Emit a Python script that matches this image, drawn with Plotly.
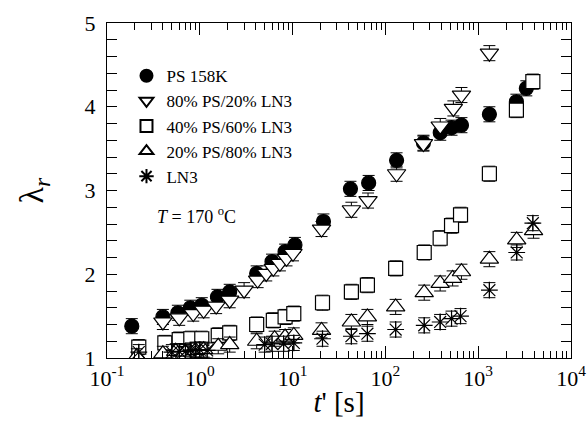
import plotly.graph_objects as go

# PS 158K (filled circles)
ps_t = [0.185, 0.40, 0.58, 0.79, 1.05, 1.55, 2.1, 4.1, 6.0, 8.3, 10.6, 21.5, 42, 66, 132, 257, 390, 516, 660, 1320, 2580, 3300]
ps_l = [1.38, 1.49, 1.54, 1.60, 1.63, 1.73, 1.79, 2.01, 2.15, 2.27, 2.35, 2.63, 3.02, 3.09, 3.36, 3.57, 3.69, 3.75, 3.78, 3.91, 4.06, 4.22]

# 80% PS / 20% LN3 (down triangles)
b80_t = [0.40, 0.60, 0.85, 1.1, 1.5, 2.1, 3.0, 4.2, 5.2, 6.2, 7.3, 8.6, 10.1, 20.5, 43, 65, 132, 257, 390, 540, 660, 1320]
b80_l = [1.43, 1.48, 1.53, 1.57, 1.62, 1.69, 1.81, 1.93, 2.01, 2.07, 2.13, 2.19, 2.25, 2.54, 2.77, 2.88, 3.20, 3.56, 3.77, 3.98, 4.14, 4.64]

# 40% PS / 60% LN3 (squares)
b40_t = [0.22, 0.42, 0.60, 0.80, 1.05, 1.58, 2.1, 4.1, 6.2, 8.3, 10.3, 21, 43, 64, 129, 262, 389, 516, 645, 1320, 2580, 3880]
b40_l = [1.13, 1.18, 1.22, 1.23, 1.23, 1.27, 1.30, 1.40, 1.45, 1.49, 1.53, 1.66, 1.79, 1.87, 2.07, 2.26, 2.43, 2.58, 2.71, 3.20, 3.96, 4.30]

# 20% PS / 80% LN3 (up triangles)
b20_t = [0.21, 0.40, 0.55, 0.70, 0.90, 1.1, 1.58, 2.1, 4.1, 6.4, 8.3, 10.3, 20.5, 43, 64, 129, 262, 389, 530, 660, 1320, 2600, 3950]
b20_l = [1.02, 1.05, 1.08, 1.07, 1.09, 1.10, 1.14, 1.16, 1.20, 1.23, 1.25, 1.27, 1.33, 1.43, 1.49, 1.61, 1.78, 1.89, 1.95, 2.03, 2.18, 2.41, 2.52]

# LN3 (asterisks)
ln3_t = [0.22, 0.50, 0.60, 0.70, 0.80, 0.90, 1.0, 1.2, 5.0, 6.0, 8.0, 10.3, 21, 43, 64, 129, 262, 389, 516, 645, 1320, 2600, 3880]
ln3_l = [1.07, 1.07, 1.08, 1.08, 1.09, 1.10, 1.10, 1.09, 1.16, 1.17, 1.17, 1.18, 1.23, 1.26, 1.29, 1.34, 1.39, 1.43, 1.47, 1.50, 1.81, 2.26, 2.61]

x_tickvals = [0.1, 1, 10, 100, 1000, 10000]
x_ticktext = ["10<sup>-1</sup>", "10<sup>0</sup>", "10<sup>1</sup>", "10<sup>2</sup>", "10<sup>3</sup>", "10<sup>4</sup>"]

series = [
    ("PS 158K", ps_t, ps_l, "circle", 14, "black"),
    ("80% PS/20% LN3", b80_t, b80_l, "triangle-down", 16, "white"),
    ("40% PS/60% LN3", b40_t, b40_l, "square", 14, "white"),
    ("20% PS/80% LN3", b20_t, b20_l, "triangle-up", 16, "white"),
    ("LN3", ln3_t, ln3_l, "asterisk-open", 14, "black"),
]

FONT = "Liberation Serif, Times New Roman, serif"
fig = go.Figure()
for name, t, l, sym, sz, fill in series:
    fig.add_trace(go.Scatter(
        x=t, y=l, mode="markers", name=name,
        marker=dict(symbol=sym, size=sz, color=fill,
                    line=dict(color="black", width=1.2)),
        error_y=dict(type="constant", value=0.09, color="black",
                     thickness=1, width=6),
    ))

fig.add_annotation(x=0.103, y=0.424, xref="paper", yref="paper",
                   text="<i>T</i> = 170 <sup>o</sup>C", showarrow=False,
                   xanchor="left", yanchor="middle",
                   font=dict(family=FONT, size=18, color="black"))

axis_common = dict(showline=True, linecolor="black", linewidth=1.2, mirror="ticks",
                   ticks="inside", tickcolor="black", showgrid=False, zeroline=False,
                   automargin=False,
                   tickfont=dict(family=FONT, size=22, color="black"))

fig.update_xaxes(type="log", range=[-1, 4], tickvals=x_tickvals, ticktext=x_ticktext,
                 ticklen=12, tickwidth=1.2,
                 minor=dict(ticks="inside", ticklen=7, tickcolor="black", showgrid=False,
                            tickvals=[m * 10 ** e for e in range(-1, 4) for m in range(2, 10)]),
                 title=dict(text="<i>t</i>' [s]", font=dict(family=FONT, size=29, color="black"),
                            standoff=2),
                 **axis_common)
fig.update_yaxes(range=[1, 5], dtick=1, ticklen=10, tickwidth=1.2, ticklabelstandoff=6,
                 minor=dict(ticks="inside", dtick=0.2, ticklen=10, tickcolor="black", showgrid=False),
                 title=dict(text="λ<sub><i>r</i></sub>", font=dict(family=FONT, size=34, color="black"),
                            standoff=30),
                 **axis_common)

fig.update_layout(
    width=587, height=427,
    margin=dict(l=107, r=16, t=23, b=69),
    paper_bgcolor="white", plot_bgcolor="white",
    showlegend=True,
    legend=dict(x=0.042, y=0.895, xanchor="left", yanchor="top",
                bgcolor="rgba(0,0,0,0)", borderwidth=0,
                font=dict(family=FONT, size=17, color="black"),
                itemsizing="constant", tracegroupgap=0, itemwidth=30),
)

fig.write_html("out.html", config={"displayModeBar": False},
               post_script="document.body.style.margin='0px';")
